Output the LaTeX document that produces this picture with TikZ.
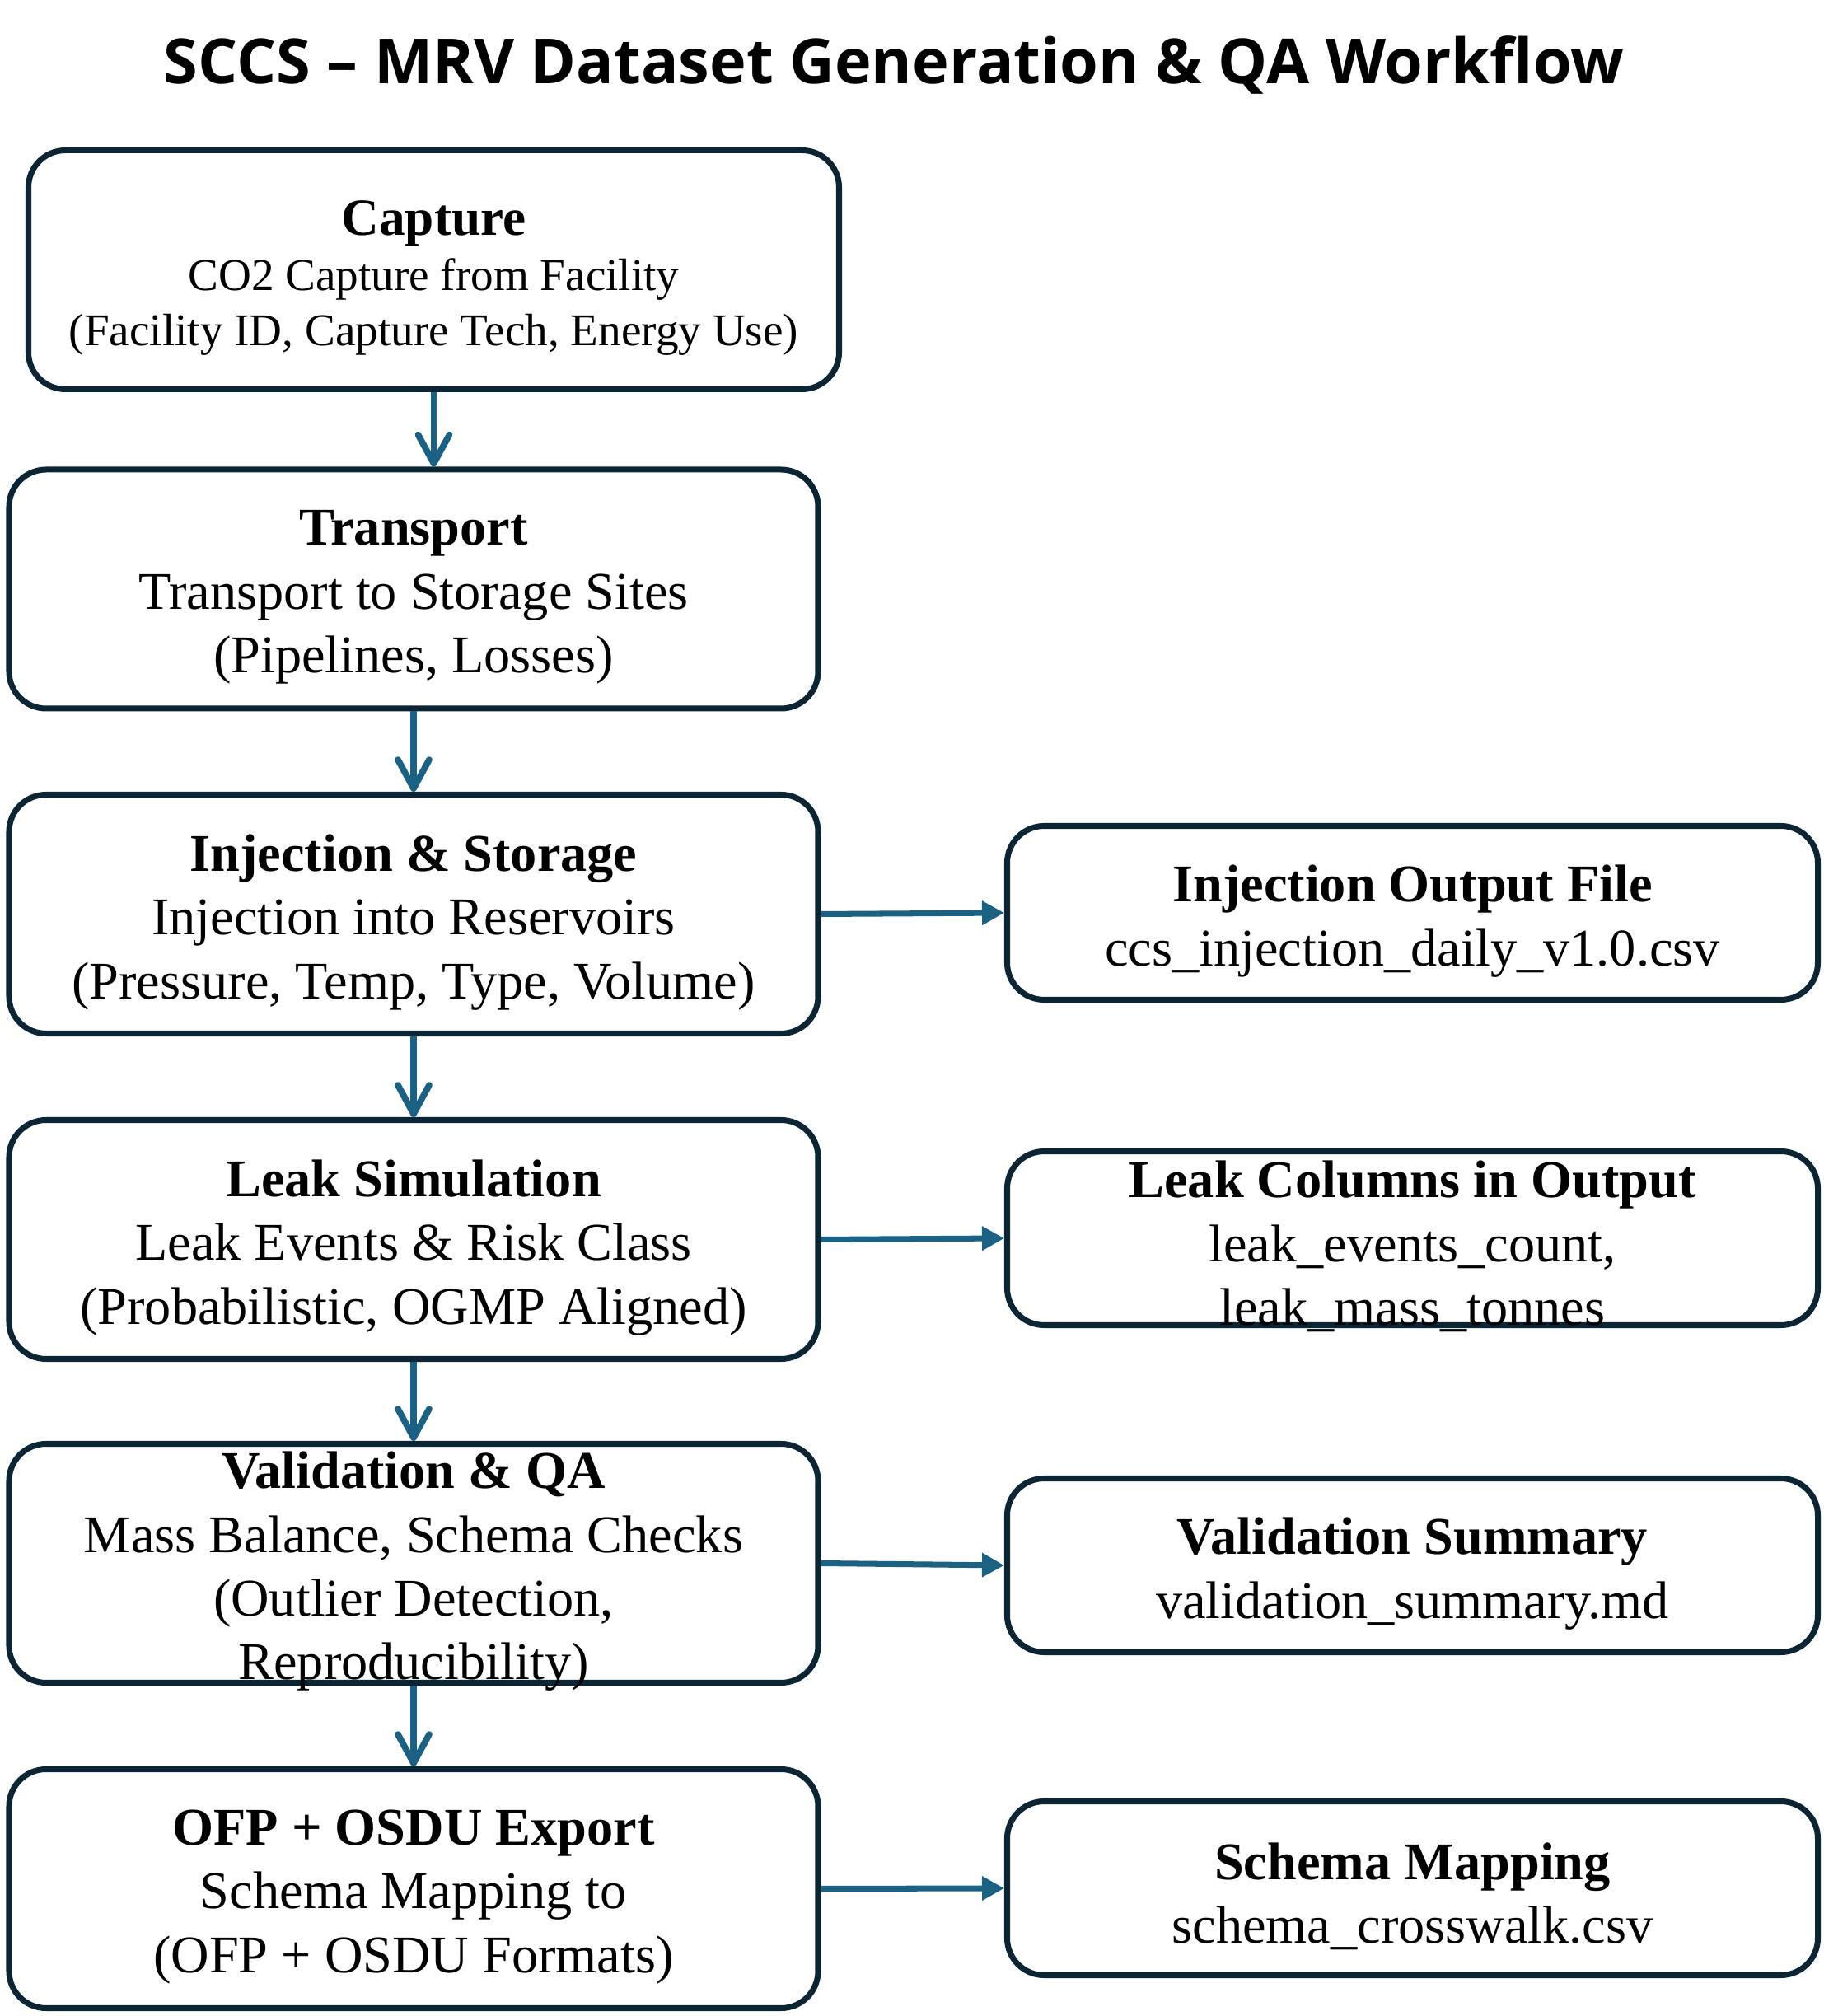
\documentclass[tikz,border=0pt]{standalone}
\usepackage{fontspec}
\setmainfont{Liberation Serif}
\newfontfamily\titlefont{Open Sans}
\usetikzlibrary{arrows.meta}
\definecolor{boxline}{HTML}{0B2534}
\definecolor{flowline}{HTML}{1A6184}
\begin{document}
\begin{tikzpicture}[
			stage/.style={draw=boxline, line width=2pt, rounded corners=0.45cm, fill=white, minimum width=9.82cm, minimum height=2.90cm},
			outbox/.style={draw=boxline, line width=2pt, rounded corners=0.45cm, fill=white, minimum width=9.84cm, minimum height=2.11cm},
			stagetxt/.style={align=center, inner sep=0pt, yshift=-0.1cm, font=\fontsize{18.3}{22}\selectfont},
			down/.style={draw=flowline, line width=2.2pt, -{Straight Barb[length=3.5mm, width=3.8mm, round]}},
			side/.style={draw=flowline, line width=2pt, -{Triangle[length=2.7mm, width=2.8mm]}}]
			\useasboundingbox (0,0) rectangle (22.13,24.47);
			%---------------- TITLE ----------------
			\node[anchor=base, font=\titlefont\bfseries\fontsize{21.5}{26}\selectfont] (title) at (10.85,23.45) {SCCS – MRV Dataset Generation \& QA Workflow};
			%---------------- LEFT COLUMN ----------------
			\node[stage, minimum width=9.84cm] (cap) at (5.265,21.195) {};
			\node[stagetxt, font=\fontsize{15.7}{19}\selectfont] (cap-t) at (cap) {{\fontsize{18}{19}\selectfont\textbf{Capture}}\\CO2 Capture from Facility\\(Facility ID, Capture Tech, Energy Use)};
			\node[stage] (trans) at (5.02,17.32) {};
			\node[stagetxt] (trans-t) at (trans) {\textbf{Transport}\\Transport to Storage Sites\\(Pipelines, Losses)};
			\node[stage] (inj) at (5.02,13.375) {};
			\node[stagetxt] (inj-t) at (inj) {\textbf{Injection \& Storage}\\Injection into Reservoirs\\(Pressure, Temp, Type, Volume)};
			\node[stage] (leak) at (5.02,9.425) {};
			\node[stagetxt] (leak-t) at (leak) {\textbf{Leak Simulation}\\Leak Events \& Risk Class\\(Probabilistic, OGMP Aligned)};
			\node[stage] (val) at (5.02,5.495) {};
			\node[stagetxt] (val-t) at (val) {\textbf{Validation \& QA}\\Mass Balance, Schema Checks\\(Outlier Detection,\\Reproducibility)};
			\node[stage] (ofp) at (5.02,1.545) {};
			\node[stagetxt] (ofp-t) at (ofp) {\textbf{OFP + OSDU Export}\\Schema Mapping to\\(OFP + OSDU Formats)};
			%---------------- RIGHT COLUMN ----------------
			\node[outbox] (injout) at (17.145,13.39) {};
			\node[stagetxt] (injout-t) at (injout) {\textbf{Injection Output File}\\ccs\_injection\_daily\_v1.0.csv};
			\node[outbox] (leakcol) at (17.145,9.44) {};
			\node[stagetxt] (leakcol-t) at (leakcol) {\textbf{Leak Columns in Output}\\leak\_events\_count,\\leak\_mass\_tonnes};
			\node[outbox] (valsum) at (17.145,5.47) {};
			\node[stagetxt] (valsum-t) at (valsum) {\textbf{Validation Summary}\\validation\_summary.md};
			\node[outbox] (schema) at (17.145,1.55) {};
			\node[stagetxt] (schema-t) at (schema) {\textbf{Schema Mapping}\\schema\_crosswalk.csv};
			%---------------- ARROWS ----------------
			\draw[down] (cap.south) -- (cap.south |- trans.north);
			\draw[down] (trans.south) -- (inj.north);
			\draw[down] (inj.south) -- (leak.north);
			\draw[down] (leak.south) -- (val.north);
			\draw[down] (val.south) -- (ofp.north);
			\draw[side] (inj.east) -- (injout.west);
			\draw[side] (leak.east) -- (leakcol.west);
			\draw[side] (val.east) -- (valsum.west);
			\draw[side] (ofp.east) -- (schema.west);
		\end{tikzpicture}
\end{document}
